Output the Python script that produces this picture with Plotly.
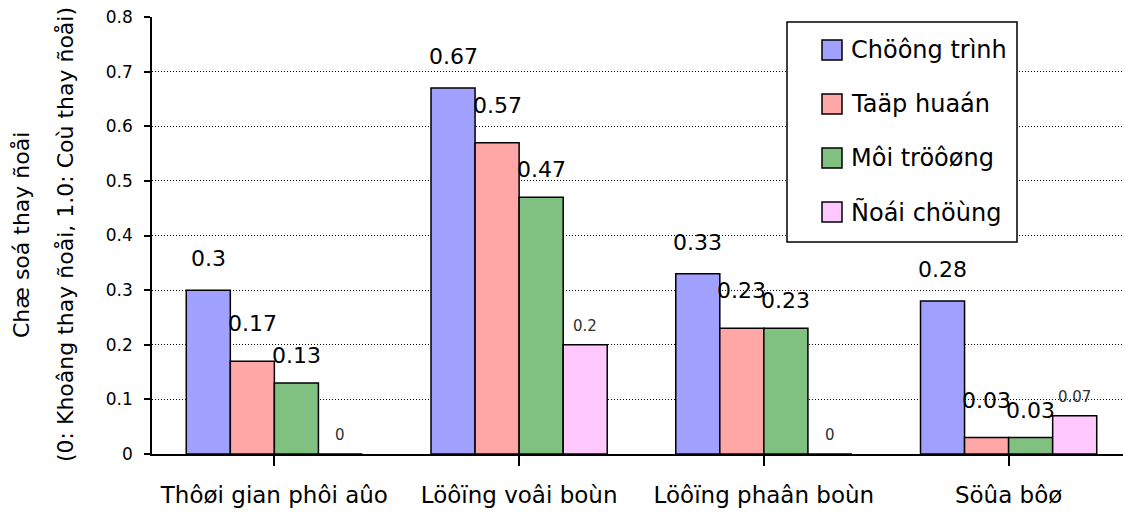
import plotly.graph_objects as go

# Categories and series (VNI-encoded Vietnamese text, as printed)
categories = ["Thôøi gian phôi aûo", "Löôïng voâi boùn", "Löôïng phaân boùn", "Söûa bôø"]
series_names = ["Chöông trình", "Taäp huaán", "Môi tröôøng", "Ñoái chöùng"]
chuong_trinh = [0.30, 0.67, 0.33, 0.28]
tap_huan = [0.17, 0.57, 0.23, 0.03]
moi_truong = [0.13, 0.47, 0.23, 0.03]
doi_chung = [0.00, 0.20, 0.00, 0.07]
y_ticks = [0, 0.1, 0.2, 0.3, 0.4, 0.5, 0.6, 0.7, 0.8]
y_title_lines = ["Chæ soá thay ñoåi", "(0: Khoâng thay ñoåi, 1.0: Coù thay ñoåi)"]

series_values = [chuong_trinh, tap_huan, moi_truong, doi_chung]
colors = ["#A0A0FF", "#FFA6A6", "#80C080", "#FFC8FF"]
label_sizes = [22, 22, 22, 15]
label_lift = [17, 23, 13, 8]   # px between bar top and its value label, per series
FONT = "DejaVu Sans, Verdana, sans-serif"

W, H = 1123, 518
ML, MR, MT, MB = 152, 0, 17, 64
BARGAP = 0.28
n_series = len(series_values)
bar_w = (1 - BARGAP) / n_series

fig = go.Figure()
for name, vals, col in zip(series_names, series_values, colors):
    fig.add_trace(go.Bar(
        x=list(range(len(categories))), y=vals, name=name,
        marker=dict(color=col, line=dict(color="black", width=1.5)),
        showlegend=False,
    ))

# value labels centred over each bar
annotations = []
for si, (vals, fs, lift) in enumerate(zip(series_values, label_sizes, label_lift)):
    off = (si - (n_series - 1) / 2) * bar_w
    for ci, v in enumerate(vals):
        annotations.append(dict(
            x=ci + off, y=v, xref="x", yref="y", text=f"{v:g}",
            showarrow=False, yanchor="bottom", xanchor="center",
            yshift=lift,
            font=dict(family=FONT, size=fs, color="#303030" if fs < 16 else "black"),
        ))

# pixel -> paper helpers for the legend box and axis title
pw = W - ML - MR
ph = H - MT - MB
def px(x):
    return (x - ML) / pw
def py(y):
    return 1 - (y - MT) / ph

# two-line vertical axis title
for line, xc in zip(y_title_lines, [22, 66]):
    annotations.append(dict(x=px(xc), y=py(235), xref="paper", yref="paper",
                            text=line, showarrow=False, textangle=-90,
                            xanchor="center", yanchor="middle",
                            font=dict(family=FONT, size=22, color="black")))

shapes = [dict(type="rect", xref="paper", yref="paper",
               x0=px(787), x1=px(1017), y0=py(242), y1=py(22),
               line=dict(color="black", width=1.5), fillcolor="white", layer="above")]
for i, (name, col) in enumerate(zip(series_names, colors)):
    cy = 50 + 54 * i
    shapes.append(dict(type="rect", xref="paper", yref="paper",
                       x0=px(822), x1=px(842), y0=py(cy + 10), y1=py(cy - 10),
                       line=dict(color="black", width=1.5), fillcolor=col, layer="above"))
    annotations.append(dict(x=px(849), y=py(cy), xref="paper", yref="paper",
                            text=name, showarrow=False, xanchor="left", yanchor="middle",
                            font=dict(family=FONT, size=24, color="black")))

xmax = len(categories) - 0.5 - 8 / 245
fig.update_layout(
    width=W, height=H,
    margin=dict(l=ML, r=MR, t=MT, b=MB, pad=0),
    paper_bgcolor="white", plot_bgcolor="white",
    barmode="group", bargap=BARGAP, bargroupgap=0,
    font=dict(family=FONT, color="black"),
    shapes=shapes, annotations=annotations,
    xaxis=dict(
        range=[-0.5, xmax], tickmode="array",
        tickvals=list(range(len(categories))), ticktext=categories,
        showline=True, linecolor="black", linewidth=1.5,
        ticks="outside", ticklen=10, tickwidth=1.5, tickcolor="black",
        showgrid=False, zeroline=False,
        tickfont=dict(family=FONT, size=23), ticklabelstandoff=10,
    ),
    yaxis=dict(
        range=[0, 0.8], tickmode="array", tickvals=y_ticks,
        ticktext=[f"{t:g}" for t in y_ticks],
        showline=True, linecolor="black", linewidth=1.5,
        ticks="outside", ticklen=6, tickwidth=1.5, tickcolor="black",
        showgrid=True, gridcolor="black", griddash="1px,2px", gridwidth=1,
        zeroline=False, tickfont=dict(family=FONT, size=17), ticklabelstandoff=8,
    ),
)

fig.write_html("out.html")
